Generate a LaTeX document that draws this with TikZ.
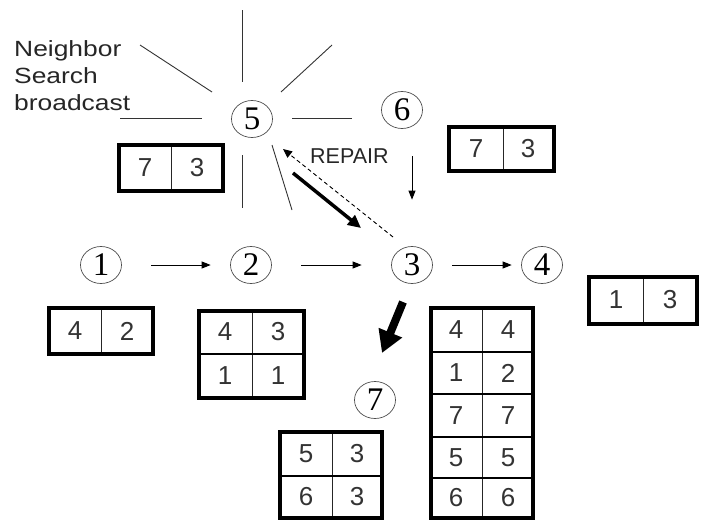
\documentclass[tikz,border=0pt]{standalone}
\usepackage{fontspec}
\setmainfont{Liberation Sans}
\newfontfamily\labelfont[FakeStretch=1.2]{Liberation Sans}
\newfontfamily\circfont{Liberation Serif}
\usetikzlibrary{arrows.meta,shapes.geometric}
\tikzset{
  circnode/.style={ellipse,draw=black!70,line width=0.7pt,minimum width=41pt,minimum height=37pt,inner sep=0pt,font=\circfont\fontsize{33}{34}\selectfont},
  lbl/.style={anchor=base west,inner sep=0pt,font=\labelfont\fontsize{22}{27}\selectfont,text=black!85},
  caplbl/.style={anchor=base west,inner sep=0pt,font=\fontsize{21.5}{27}\selectfont,text=black!85},
  cell/.style={inner sep=0pt,font=\fontsize{26}{28}\selectfont,text=black!80},
  tblouter/.style={line width=3.2pt,black},
  tblsep/.style={line width=2.6pt,black},
  tbldiv/.style={line width=0.9pt,black!85},
  ray/.style={line width=0.9pt,black!80},
  thinarrow/.style={line width=0.9pt,-{Triangle[length=9pt,width=7pt]}},
  boldarrow/.style={line width=3.5pt,-{Triangle[length=13pt,width=12pt]}},
  heavyarrow/.style={line width=8pt,-{Triangle[length=22pt,width=24pt]}},
  dasharrow/.style={line width=0.9pt,dash pattern=on 4pt off 3pt,-{Triangle[length=9pt,width=8pt]}}
}
\begin{document}
\begin{tikzpicture}[x=1pt,y=-1pt]
\useasboundingbox (0,0) rectangle (708,520);
\clip (0,0) rectangle (708,520);
% circled nodes
\node[circnode] (c1) at (101,265) {1};
\node[circnode] (c2) at (251,265) {2};
\node[circnode] (c3) at (412,265) {3};
\node[circnode] (c4) at (542,265) {4};
\node[circnode] (c5) at (252,119) {5};
\node[circnode] (c6) at (402,110) {6};
\node[circnode] (c7) at (375,400) {7};
% broadcast rays
\draw[ray] (242,10) -- (242,82);
\draw[ray] (140,45) -- (212,92);
\draw[ray] (332,45) -- (281,92);
\draw[ray] (120,118) -- (202,118);
\draw[ray] (292,118) -- (352,118);
\draw[ray] (242,155) -- (242,208);
\draw[ray] (272,145) -- (292,210);
% labels
\node[lbl] (nb1) at (14,56) {Neighbor};
\node[lbl] (nb2) at (14,83) {Search};
\node[lbl] (nb3) at (14,110) {broadcast};
\node[caplbl] (rep) at (310,163) {REPAIR};
% connectors
\draw[thinarrow,shorten <=29.5pt,shorten >=19.5pt] (c1) -- (c2);
\draw[thinarrow,shorten <=29.5pt,shorten >=29.5pt] (c2) -- (c3);
\draw[thinarrow,shorten <=19.5pt,shorten >=9.5pt] (c3) -- (c4);
\draw[thinarrow,shorten <=46pt,shorten >=46.5pt] (c3 |- c6) -- (c3);
\draw[boldarrow] ([shift={(41,54)}]c5.center) -- ([shift={(-51,-37)}]c3.center);
\draw[dasharrow] ([shift={(-19,-28)}]c3.center) -- ([shift={(31,30)}]c5.center);
\draw[heavyarrow] ([shift={(-9,37)}]c3.center) -- ([shift={(7,-47)}]c7.center);
% table at 5
\draw[tbldiv] (171,145) -- (171,191);
\draw[tblouter] (119,145) rectangle (223,191);
\node[cell] (t5a) at (145,168) {7};
\node[cell] (t5b) at (197,168) {3};
% table at 6
\draw[tbldiv] (503,127) -- (503,171);
\draw[tblouter] (449,127) rectangle (554,171);
\node[cell] (t6a) at (476,149) {7};
\node[cell] (t6b) at (528,149) {3};
% table at 1
\draw[tbldiv] (101,308) -- (101,354);
\draw[tblouter] (49,308) rectangle (153,354);
\node[cell] (t1a) at (75,331) {4};
\node[cell] (t1b) at (127,331) {2};
% table at 2
\draw[tbldiv] (252,311) -- (252,398);
\draw[tblsep] (199,354) -- (304,354);
\draw[tblouter] (199,311) rectangle (304,398);
\node[cell] (t2a) at (225,332) {4};
\node[cell] (t2b) at (278,332) {3};
\node[cell] (t2c) at (225,376) {1};
\node[cell] (t2d) at (278,376) {1};
% table at 4
\draw[tbldiv] (643,277) -- (643,324);
\draw[tblouter] (589,277) rectangle (697,324);
\node[cell] (t4a) at (616,300) {1};
\node[cell] (t4b) at (670,300) {3};
% table at 7
\draw[tbldiv] (332,432) -- (332,518);
\draw[tblsep] (280,476) -- (382,476);
\draw[tblouter] (280,432) rectangle (382,518);
\node[cell] (t7a) at (306,454) {5};
\node[cell] (t7b) at (357,454) {3};
\node[cell] (t7c) at (306,497) {6};
\node[cell] (t7d) at (357,497) {3};
% table at 3
\draw[tbldiv] (482,308) -- (482,518);
\draw[tblsep] (431,352) -- (533,352);
\draw[tblsep] (431,394) -- (533,394);
\draw[tblsep] (431,437) -- (533,437);
\draw[tblsep] (431,478) -- (533,478);
\draw[tblouter] (431,308) rectangle (533,518);
\node[cell] (t3a) at (456,330) {4};
\node[cell] (t3b) at (508,330) {4};
\node[cell] (t3c) at (456,373) {1};
\node[cell] (t3d) at (508,373) {2};
\node[cell] (t3e) at (456,415.5) {7};
\node[cell] (t3f) at (508,415.5) {7};
\node[cell] (t3g) at (456,457.5) {5};
\node[cell] (t3h) at (508,457.5) {5};
\node[cell] (t3i) at (456,498) {6};
\node[cell] (t3j) at (508,498) {6};
\end{tikzpicture}
\end{document}
